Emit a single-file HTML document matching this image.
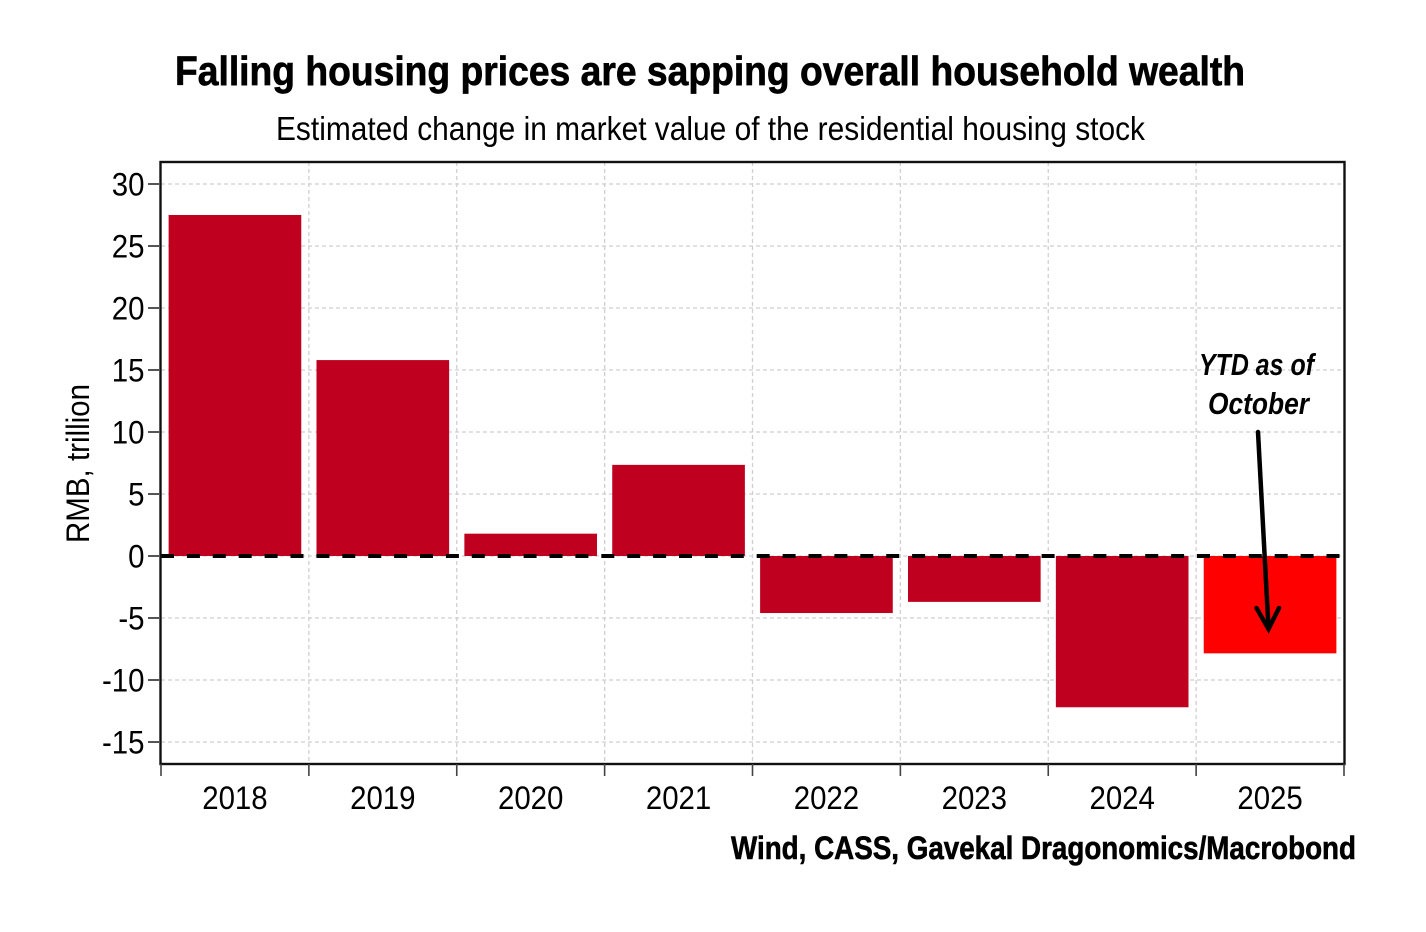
<!DOCTYPE html>
<html lang="en">
<head>
<meta charset="utf-8">
<title>Falling housing prices are sapping overall household wealth</title>
<style>
  html, body { margin: 0; padding: 0; background: #fff; }
  svg { display: block; }
  text { font-family: "Liberation Sans", sans-serif; fill: #000; }
</style>
</head>
<body>
<svg id="chart" xmlns="http://www.w3.org/2000/svg" width="1426" height="932" viewBox="0 0 1426 932">
  <rect x="0" y="0" width="1426" height="932" fill="#ffffff"/>
  <text x="175" y="85" font-size="41" font-weight="700" stroke="#000" stroke-width="0.7" textLength="1070" lengthAdjust="spacingAndGlyphs">Falling housing prices are sapping overall household wealth</text>
  <text x="276" y="140" font-size="33" textLength="869" lengthAdjust="spacingAndGlyphs">Estimated change in market value of the residential housing stock</text>
  <g id="grid"></g>
  <g id="bars"></g>
  <g id="axes"></g>
  <text transform="translate(89,543) rotate(-90)" font-size="32" textLength="159" lengthAdjust="spacingAndGlyphs">RMB, trillion</text>
  <text x="731" y="859" font-size="32" font-weight="700" stroke="#000" stroke-width="0.6" textLength="625" lengthAdjust="spacingAndGlyphs">Wind, CASS, Gavekal Dragonomics/Macrobond</text>
  <text x="1199" y="375" font-size="31" font-weight="700" font-style="italic" textLength="115" lengthAdjust="spacingAndGlyphs">YTD as of</text>
  <text x="1208" y="414" font-size="31" font-weight="700" font-style="italic" textLength="101" lengthAdjust="spacingAndGlyphs">October</text>
  <g fill="none" stroke="#000" stroke-width="4.5" stroke-linecap="round" stroke-linejoin="miter">
    <path d="M1258 432 L1268.5 628"/>
    <path d="M1256.5 608 L1268.5 629 L1279 608"/>
  </g>
</svg>
<script>
const categories = ['2018', '2019', '2020', '2021', '2022', '2023', '2024', '2025'];
const changeValues = [27.5, 15.8, 1.8, 7.35, -4.6, -3.7, -12.2, -7.85];
const yTickValues = [30, 25, 20, 15, 10, 5, 0, -5, -10, -15];
const highlightedCategory = '2025';

const SVG_NS = 'http://www.w3.org/2000/svg';
const plot = { left: 161, right: 1344, top: 162, bottom: 764 };
const barFill = 0.897;

function yScale(v) { return 556 - v * 12.4; }
function bandWidth() { return (plot.right - plot.left) / categories.length; }
function xEdge(i) { return plot.left + i * bandWidth(); }
function xCenter(i) { return xEdge(i) + bandWidth() / 2; }

function make(tag, attrs, parent) {
  const el = document.createElementNS(SVG_NS, tag);
  for (const k in attrs) el.setAttribute(k, attrs[k]);
  parent.appendChild(el);
  return el;
}

const gridG = document.getElementById('grid');
const barsG = document.getElementById('bars');
const axesG = document.getElementById('axes');

yTickValues.forEach(function (v) {
  const line = make('line', { x1: plot.left, x2: plot.right, y1: yScale(v), y2: yScale(v), stroke: '#cfcfcf', 'stroke-width': 1.3, 'stroke-dasharray': '4 3' }, gridG);
  
  
});
for (let i = 1; i < categories.length; i++) {
  const line = make('line', { x1: xEdge(i), x2: xEdge(i), y1: plot.top, y2: plot.bottom, stroke: '#cfcfcf', 'stroke-width': 1.3, 'stroke-dasharray': '4 3' }, gridG);
  
  
}

categories.forEach(function (cat, i) {
  const v = changeValues[i];
  const w = bandWidth() * barFill;
  const bar = make('rect', {
    x: xCenter(i) - w / 2,
    y: Math.min(yScale(v), yScale(0)),
    width: w,
    height: Math.abs(yScale(v) - yScale(0)),
    fill: cat === highlightedCategory ? '#ff0000' : '#c0001f'
  }, barsG);
  
  
});

const zeroLine = make('line', { x1: plot.left, x2: plot.right - 4, y1: yScale(0), y2: yScale(0), stroke: '#000', 'stroke-width': 4, 'stroke-dasharray': '13 12.9' }, axesG);



const frame = make('rect', { x: plot.left - 0.5, y: plot.top, width: plot.right - plot.left + 1, height: plot.bottom - plot.top, fill: 'none', stroke: '#111', 'stroke-width': 2.4 }, axesG);



yTickValues.forEach(function (v) {
  const tick = make('line', { x1: 148, x2: plot.left - 1, y1: yScale(v), y2: yScale(v), stroke: '#555', 'stroke-width': 2 }, axesG);
  
  
  const label = make('text', { transform: 'translate(144.5,' + (yScale(v) + 11.5) + ') scale(0.92,1)', 'text-anchor': 'end', 'font-size': 32 }, axesG);
  
  
  label.textContent = String(v);
});

for (let i = 0; i <= categories.length; i++) {
  const tick = make('line', { x1: xEdge(i), x2: xEdge(i), y1: plot.bottom, y2: 776, stroke: '#444', 'stroke-width': 1.6 }, axesG);
  
  
}
categories.forEach(function (cat, i) {
  const label = make('text', { transform: 'translate(' + xCenter(i) + ',809) scale(0.92,1)', 'text-anchor': 'middle', 'font-size': 32 }, axesG);
  
  
  label.textContent = cat;
});
</script>
</body>
</html>
